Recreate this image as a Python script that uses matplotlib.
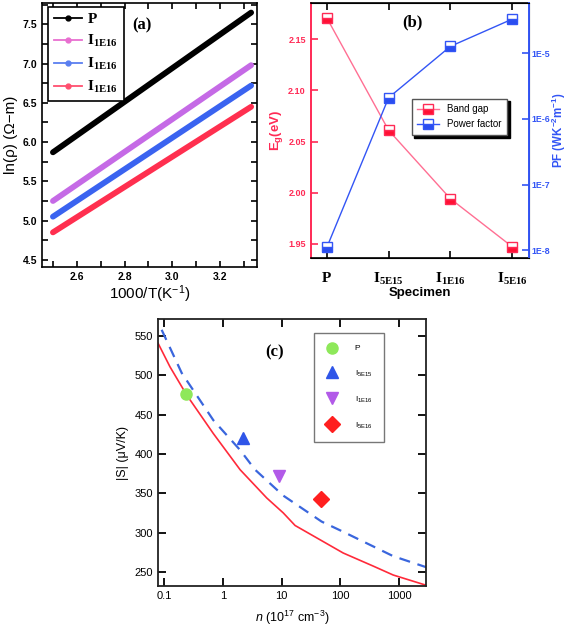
import numpy as np
import matplotlib
matplotlib.use("Agg")
import matplotlib.pyplot as plt
from matplotlib.lines import Line2D

plt.rcParams['font.family'] = ['Liberation Sans', 'DejaVu Sans']
plt.rcParams['mathtext.fontset'] = 'custom'
plt.rcParams['mathtext.rm'] = 'Liberation Serif:bold'
plt.rcParams['mathtext.bf'] = 'Liberation Sans:bold'
plt.rcParams['mathtext.sf'] = 'Liberation Sans'
plt.rcParams['mathtext.it'] = 'Liberation Sans:italic'

# ---- panel (a): ln(rho) vs 1000/T
invT = [2.5, 3.33]
ln_rho_P = [5.87, 7.65]
ln_rho_1 = [5.25, 6.98]
ln_rho_2 = [5.05, 6.72]
ln_rho_3 = [4.85, 6.45]
a_labels = [r"$\mathrm{P}$", r"$\mathrm{I_{1E16}}$", r"$\mathrm{I_{1E16}}$", r"$\mathrm{I_{1E16}}$"]
a_colors = ["black", "#c56ae6", "#3a63f0", "#ff2f4f"]
a_legcolors = ["black", "#e86fd0", "#5a7ff0", "#ff4f6f"]

# ---- panel (b): band gap & power factor
specimens = [r"$\mathrm{P}$", r"$\mathrm{I_{5E15}}$", r"$\mathrm{I_{1E16}}$", r"$\mathrm{I_{5E16}}$"]
band_gap = [2.171, 2.061, 1.994, 1.947]
power_factor = [1.1e-8, 2.1e-6, 1.27e-5, 3.3e-5]

# ---- panel (c): Seebeck vs carrier concentration
n_red = [0.079, 0.126, 0.243, 0.69, 1.97, 5.6, 10.7, 17, 112, 372, 794, 2880]
S_red = [541, 511, 475, 426, 380, 344, 325, 309, 274, 257, 246, 233]
n_blue = [0.091, 0.2, 0.69, 1.97, 3.54, 10.7, 48, 112, 794, 2880]
S_blue = [558, 503, 443, 405, 380, 347, 314, 301, 270, 256]
n_pts = [0.234, 2.2, 9.2, 47]
S_pts = [476, 420, 372, 343]
c_labels = ["P", r"$\mathsf{I_{5E15}}$", r"$\mathsf{I_{1E16}}$", r"$\mathsf{I_{5E16}}$"]
c_markers = ["o", "^", "v", "D"]
c_colors = ["#8ee85a", "#2f55e8", "#b25ae8", "#ff1f1f"]

fig = plt.figure(figsize=(5.67, 6.31), dpi=100)

# ================= (a)
ax = fig.add_axes([0.074, 0.577, 0.379, 0.418])
for ys, col in zip([ln_rho_P, ln_rho_1, ln_rho_2, ln_rho_3], a_colors):
    ax.plot(invT, ys, color=col, lw=4.2, solid_capstyle='round')
ax.set_xlim(2.454, 3.354)
ax.set_ylim(4.41, 7.77)
ax.set_xticks([2.6, 2.8, 3.0, 3.2])
ax.set_xticks(np.arange(2.5, 3.35, 0.1), minor=True)
ax.set_yticks([4.5, 5.0, 5.5, 6.0, 6.5, 7.0, 7.5])
ax.set_yticks(np.arange(4.5, 7.76, 0.25), minor=True)
ax.tick_params(which='both', direction='in', top=True, right=True, length=4, width=1.2)
for lab in ax.get_xticklabels() + ax.get_yticklabels():
    lab.set_fontweight('bold')
    lab.set_fontsize(7.5)
ax.set_xlabel(r"1000/T(K$^{\mathsf{-1}}$)", fontsize=11, labelpad=1)
ax.set_ylabel("ln(ρ) (Ω−m)", fontsize=11, labelpad=3)
for sp in ax.spines.values():
    sp.set_linewidth(1.2)
handles = [Line2D([], [], color=c, marker='o', markersize=3.5, lw=1.3) for c in a_legcolors]
leg = ax.legend(handles, a_labels, loc='upper left', bbox_to_anchor=(0.03, 0.985),
                fontsize=11, fancybox=False, edgecolor='black', framealpha=1,
                handlelength=1.85, labelspacing=0.45, borderpad=0.35, handletextpad=0.35,
                borderaxespad=0)
leg.get_frame().set_linewidth(1.2)
ax.text(0.465, 0.917, "(a)", transform=ax.transAxes, fontsize=12, fontweight='bold',
        family='Liberation Serif', ha='center', va='center')

# ================= (b)
red = "#ff2a55"
blue = "#3355f5"
axb = fig.add_axes([0.548, 0.591, 0.385, 0.404])
xs = np.arange(len(specimens))
l1, = axb.plot(xs, band_gap, color="#ff6f93", lw=1, marker='s', markersize=7,
               fillstyle='bottom', markerfacecolor="#ff1033", markerfacecoloralt='white',
               markeredgecolor="#ff2a55", markeredgewidth=1, label="Band gap")
axb.set_xlim(-0.26, 3.27)
axb.set_ylim(1.936, 2.1854)
axb.set_yticks([1.95, 2.00, 2.05, 2.10, 2.15])
axb.set_yticklabels(["1.95", "2.00", "2.05", "2.10", "2.15"])
axb.set_xticks(xs)
axb.set_xticklabels(specimens, fontsize=11)
axb.tick_params(axis='x', direction='in', top=True, length=5, width=1.2, pad=9)
axb.tick_params(axis='y', direction='in', length=5, width=1.2, colors=red, labelsize=6.5)
for lab in axb.get_yticklabels():
    lab.set_fontweight('bold')
axb.spines['left'].set_color(red)
axb.spines['left'].set_linewidth(1.4)
axb.spines['bottom'].set_linewidth(1.2)
axb.spines['top'].set_linewidth(1.2)
axb.set_xlabel("Specimen", fontsize=9.5, fontweight='bold', labelpad=0)
axb.set_ylabel(r"E$_{\mathbf{g}}$(eV)", fontsize=9.5, fontweight='bold', color=red, labelpad=2)

axb2 = axb.twinx()
l2, = axb2.plot(xs, power_factor, color=blue, lw=1, marker='s', markersize=7,
                fillstyle='bottom', markerfacecolor="#2a4df0", markerfacecoloralt='white',
                markeredgecolor=blue, markeredgewidth=1, label="Power factor")
axb2.set_yscale('log')
axb2.set_ylim(10 ** -8.12, 10 ** -4.239)
axb2.set_yticks([1e-8, 1e-7, 1e-6, 1e-5])
axb2.set_yticklabels(["1E-8", "1E-7", "1E-6", "1E-5"])
axb2.minorticks_off()
axb2.tick_params(axis='y', direction='in', length=5, width=1.2, colors=blue, labelsize=6.3,
                 pad=1.5)
for lab in axb2.get_yticklabels():
    lab.set_fontweight('bold')
axb2.spines['right'].set_color(blue)
axb2.spines['right'].set_linewidth(1.4)
axb2.spines['left'].set_visible(False)
axb2.set_ylabel(r"PF (WK$^{\mathbf{-2}}$m$^{\mathbf{-1}}$)", fontsize=8.3, fontweight='bold',
                color=blue, labelpad=0)
legb = axb2.legend([l1, l2], ["Band gap", "Power factor"], loc='upper left',
                   bbox_to_anchor=(0.44, 0.645), fontsize=7, fancybox=False,
                   edgecolor='#555555', framealpha=1, handlelength=2.2,
                   shadow={'facecolor': 'black', 'edgecolor': 'black', 'alpha': 1},
                   borderpad=0.6, labelspacing=0.5)
axb.text(0.42, 0.91, "(b)", transform=axb.transAxes, fontsize=12, fontweight='bold',
         family='Liberation Serif')

# ================= (c)
axc = fig.add_axes([0.2787, 0.0713, 0.4727, 0.423])
axc.plot(n_red, S_red, color="#ff2a3a", lw=1.2)
axc.plot(n_blue, S_blue, color="#3a66dd", lw=1.6, dashes=(5, 3.5))
for x, y, m, c, lab in zip(n_pts, S_pts, c_markers, c_colors, c_labels):
    axc.plot(x, y, linestyle='none', marker=m, color=c, markersize=8, label=lab)
axc.set_xscale('log')
axc.set_xlim(0.079, 2880)
axc.set_ylim(232, 571.6)
axc.set_xticks([0.1, 1, 10, 100, 1000])
axc.set_xticklabels(["0.1", "1", "10", "100", "1000"])
axc.minorticks_off()
axc.set_yticks([250, 300, 350, 400, 450, 500, 550])
axc.tick_params(direction='in', top=True, right=True, length=6, width=1.3, labelsize=8)
for sp in axc.spines.values():
    sp.set_linewidth(1.3)
    sp.set_color('#222222')
axc.set_xlabel(r"$\mathit{n}$ (10$^{\mathsf{17}}$ cm$^{\mathsf{-3}}$)", fontsize=9, labelpad=6)
axc.set_ylabel("|S| (μV/K)", fontsize=9, labelpad=4)
legc = axc.legend(loc='upper left', bbox_to_anchor=(0.582, 0.948), fontsize=6,
                  fancybox=False, edgecolor='#777777', framealpha=1, handlelength=1.5,
                  labelspacing=1.9, borderpad=1.4, handletextpad=2.0, borderaxespad=0)
axc.text(0.4, 0.86, "(c)", transform=axc.transAxes, fontsize=12, fontweight='bold',
         family='Liberation Serif')

fig.savefig("out.png", dpi=100)
